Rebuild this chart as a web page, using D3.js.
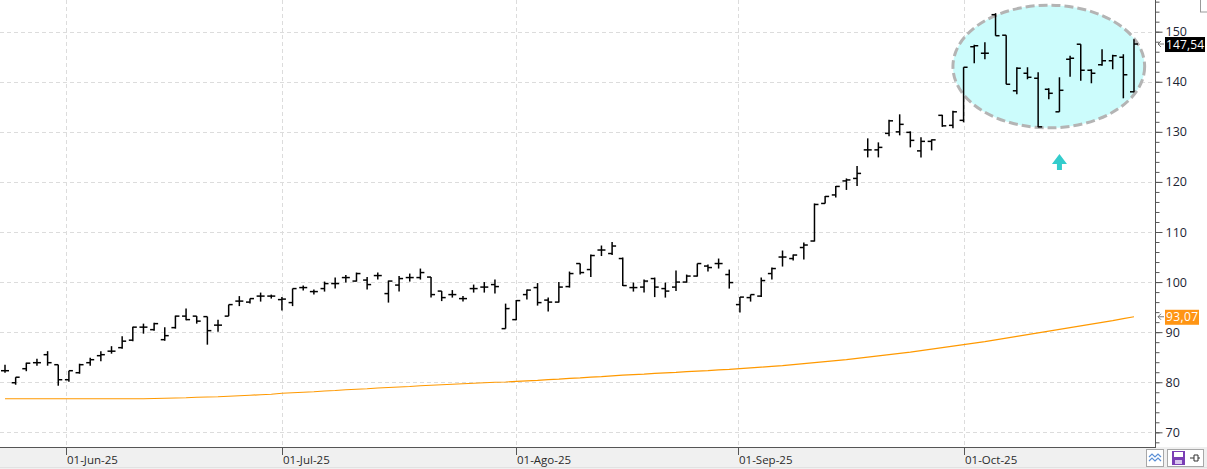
<!DOCTYPE html>
<html>
<head>
<meta charset="utf-8">
<script src="https://cdn.jsdelivr.net/npm/d3@7"></script>
<style>
  html, body { margin: 0; padding: 0; background: #fff; }
  #wrapper { width: 1207px; height: 469px; overflow: hidden; }
  text { font-family: "Open Sans", "DejaVu Sans", sans-serif; }
</style>
</head>
<body>
<div id="wrapper"></div>
<script>
// daily bars, 22-May-25 .. 23-Oct-25 (one entry per trading day)
const opens = [82.3, 79.9, 82.7, 83.9, 85.5, 83.5, 80.5, 81.9, 83.9, 85.3,
  86.2, 86.9, 88.4, 91.0, 90.5, 88.5, 90.9, 93.2, 93.2, 93.1,
  91.4, 93.2, 96.2, 96.0, 97.2, 97.2, 96.5, 95.9, 98.9, 98.1,
  98.7, 99.7, 100.9, 100.2, 100.4, 101.3, 97.7, 99.4, 100.9, 100.9,
  101.0, 98.2, 97.5, 96.7, 98.7, 99.0, 99.5, 90.7, 92.5, 97.5,
  98.9, 96.4, 96.0, 99.1, 103.7, 102.5, 106.4, 105.7, 104.7, 98.9,
  99.0, 100.7, 98.7, 99.0, 100.0, 101.2, 103.2, 103.7, 101.5, 95.5,
  96.9, 97.2, 101.7, 105.0, 104.7, 106.9, 108.2, 115.7, 117.4, 120.2,
  120.7, 126.4, 126.4, 129.7, 130.0, 129.9, 126.2, 128.1, 133.3, 131.3,
  132.3, 147.0, 145.7, 153.4, 149.3, 138.2, 141.7, 140.7, 138.5, 134.0,
  144.5, 147.5, 142.3, 143.4, 144.2, 144.9, 138.0];
const highs = [83.5, 81.0, 83.9, 84.7, 86.2, 83.5, 82.3, 83.7, 84.9, 86.2,
  87.2, 89.2, 91.1, 91.7, 91.9, 91.0, 93.3, 94.7, 93.2, 93.1,
  92.5, 95.5, 97.2, 96.7, 97.9, 97.5, 97.0, 98.7, 99.3, 98.5,
  100.1, 100.9, 101.4, 101.9, 101.0, 101.9, 100.3, 101.2, 101.7, 102.7,
  101.0, 98.2, 98.4, 97.2, 99.5, 100.0, 100.5, 95.7, 96.4, 98.5,
  99.8, 96.9, 100.0, 102.1, 103.7, 105.5, 107.3, 108.0, 104.9, 99.9,
  100.5, 100.9, 99.9, 102.3, 101.5, 103.7, 103.5, 104.7, 102.5, 97.0,
  97.5, 100.9, 102.9, 106.3, 105.5, 107.9, 115.7, 117.2, 119.2, 120.7,
  123.2, 128.7, 127.9, 132.4, 133.5, 130.1, 128.9, 128.5, 133.4, 134.2,
  142.9, 147.4, 147.9, 153.7, 149.3, 142.9, 142.9, 141.9, 138.7, 140.9,
  145.2, 147.5, 142.5, 146.5, 145.4, 145.5, 148.5];
const lows = [81.9, 79.5, 82.2, 83.3, 83.3, 79.3, 80.1, 81.7, 83.3, 84.2,
  85.7, 86.7, 88.2, 89.7, 90.3, 88.3, 90.7, 92.4, 91.7, 87.5,
  90.1, 93.2, 95.2, 95.7, 96.1, 96.7, 94.3, 95.2, 98.3, 97.5,
  98.1, 98.7, 99.9, 100.1, 98.5, 100.5, 95.9, 98.1, 100.1, 100.5,
  96.9, 96.2, 96.9, 96.1, 97.9, 97.9, 97.7, 90.7, 92.4, 96.5,
  95.3, 94.1, 95.9, 98.9, 101.5, 101.0, 105.2, 105.4, 99.2, 98.1,
  97.9, 97.0, 96.9, 98.2, 99.9, 101.1, 102.1, 102.7, 98.7, 93.9,
  96.1, 97.0, 100.5, 103.1, 104.3, 104.5, 108.1, 115.7, 116.9, 118.4,
  119.2, 124.9, 124.9, 129.1, 129.3, 126.9, 124.9, 126.3, 131.0, 130.7,
  131.9, 143.7, 144.5, 149.2, 139.5, 137.5, 140.5, 130.9, 136.5, 134.0,
  141.0, 140.2, 139.7, 143.2, 142.5, 136.7, 137.9];
const closes = [82.3, 81.0, 83.8, 83.9, 83.9, 80.5, 82.3, 83.5, 84.5, 85.5,
  86.2, 88.2, 91.0, 91.0, 91.7, 89.3, 93.2, 92.5, 92.2, 90.3,
  91.4, 95.5, 96.2, 96.7, 97.2, 97.2, 96.6, 98.7, 98.9, 98.1,
  99.7, 99.7, 100.9, 101.7, 99.5, 101.3, 100.2, 100.7, 100.9, 101.9,
  97.5, 96.9, 97.5, 96.7, 98.7, 99.0, 99.1, 94.7, 96.3, 98.4,
  95.9, 96.0, 99.0, 101.7, 101.9, 105.3, 106.4, 107.2, 99.3, 98.9,
  100.2, 99.0, 98.2, 100.0, 101.2, 103.7, 102.9, 103.7, 99.9, 97.0,
  97.5, 100.3, 102.7, 105.0, 105.4, 107.4, 115.5, 117.1, 119.1, 120.4,
  121.7, 126.4, 126.9, 132.2, 131.5, 128.3, 128.1, 128.4, 131.2, 134.0,
  142.9, 147.2, 145.7, 149.2, 139.5, 142.7, 140.9, 131.0, 137.7, 138.3,
  144.7, 142.3, 141.7, 144.2, 145.2, 141.4, 147.54];
// orange moving average, one value per bar
const movingAvg = [76.7, 76.7, 76.7, 76.7, 76.7, 76.7, 76.7, 76.7, 76.7, 76.7,
  76.7, 76.7, 76.7, 76.7, 76.75, 76.8, 76.85, 76.9, 77.0, 77.05,
  77.1, 77.2, 77.3, 77.4, 77.5, 77.6, 77.8, 77.9, 78.0, 78.1,
  78.25, 78.35, 78.5, 78.6, 78.7, 78.85, 78.95, 79.05, 79.15, 79.3,
  79.4, 79.5, 79.6, 79.7, 79.8, 79.9, 80.0, 80.05, 80.15, 80.25,
  80.35, 80.5, 80.6, 80.75, 80.85, 81.0, 81.1, 81.25, 81.4, 81.5,
  81.6, 81.75, 81.85, 81.95, 82.1, 82.2, 82.3, 82.45, 82.55, 82.7,
  82.85, 83.0, 83.15, 83.3, 83.5, 83.7, 83.9, 84.1, 84.3, 84.5,
  84.75, 85.0, 85.25, 85.5, 85.75, 86.0, 86.3, 86.6, 86.9, 87.2,
  87.5, 87.8, 88.1, 88.45, 88.8, 89.15, 89.5, 89.85, 90.2, 90.55,
  90.9, 91.25, 91.6, 91.95, 92.3, 92.7, 93.07];
// month ticks (position in bars) and labels
const monthTickPos = [5.7, 26, 48, 68.8, 90];
const monthTickLabels = ["01-Jun-25", "01-Jul-25", "01-Ago-25", "01-Sep-25", "01-Oct-25"];
const priceTicks = [70, 80, 90, 100, 110, 120, 130, 140, 150];
// highlighted zone: bar range and price range
const zoneBars = [89.0, 107.0];
const zonePrices = [130.8, 155.3];
const arrowBar = 99;
const arrowPrices = [122.4, 125.6];

function drawChart() {
    let dimensions = {
        width: 1207,
        height: 469,
        plotRight: 1155,
        plotBottom: 447
    };

    const svg = d3.select("#wrapper")
        .append("svg")
        .attr("width", dimensions.width)
        .attr("height", dimensions.height);

    const xScale = d3.scaleLinear()
        .domain([0, opens.length - 1])
        .range([5, 1134]);

    const yScale = d3.scaleLinear()
        .domain([70, 150])
        .range([432.3, 31.7]);

    const comma = d3.formatLocale({decimal: ",", thousands: ".", grouping: [3], currency: ["", ""]}).format(".2f");

    // grid
    const grid = svg.append("g")
        .attr("stroke", "#dcdcdc")
        .attr("stroke-dasharray", "4,3")
        .attr("stroke-width", 1)
        .attr("shape-rendering", "crispEdges");
    grid.selectAll(".h").data(priceTicks).join("line")
        .attr("x1", 0).attr("x2", dimensions.plotRight)
        .attr("y1", d => Math.round(yScale(d)) + 0.5)
        .attr("y2", d => Math.round(yScale(d)) + 0.5);
    grid.selectAll(".v").data(monthTickPos).join("line")
        .attr("x1", d => Math.round(xScale(d)) + 0.5)
        .attr("x2", d => Math.round(xScale(d)) + 0.5)
        .attr("y1", 0).attr("y2", dimensions.plotBottom);

    // highlighted zone
    svg.append("ellipse")
        .attr("cx", (xScale(zoneBars[0]) + xScale(zoneBars[1])) / 2)
        .attr("cy", (yScale(zonePrices[0]) + yScale(zonePrices[1])) / 2)
        .attr("rx", (xScale(zoneBars[1]) - xScale(zoneBars[0])) / 2)
        .attr("ry", (yScale(zonePrices[0]) - yScale(zonePrices[1])) / 2)
        .attr("fill", "#ccfcfc")
        .attr("stroke", "#b4b4b4")
        .attr("stroke-width", 3)
        .attr("stroke-dasharray", "9,4");

    // arrow
    const ax = xScale(arrowBar);
    const aTop = yScale(arrowPrices[1]);
    const aBot = yScale(arrowPrices[0]);
    svg.append("path")
        .attr("d", `M${ax},${aTop} L${ax + 7.5},${aTop + 10} L${ax + 2.5},${aTop + 10} L${ax + 2.5},${aBot} L${ax - 2.5},${aBot} L${ax - 2.5},${aTop + 10} L${ax - 7.5},${aTop + 10} Z`)
        .attr("fill", "#33cccc");

    // moving average
    const line = d3.line()
        .x((d, i) => xScale(i))
        .y(d => yScale(d));
    svg.append("path")
        .datum(movingAvg)
        .attr("d", line)
        .attr("fill", "none")
        .attr("stroke", "#ff9900")
        .attr("stroke-width", 1.2);

    // ohlc bars
    const bars = svg.append("g")
        .attr("stroke", "#000")
        .attr("stroke-width", 1.5);
    const idx = d3.range(opens.length);
    bars.selectAll(".hl").data(idx).join("line")
        .attr("x1", i => xScale(i)).attr("x2", i => xScale(i))
        .attr("y1", i => yScale(highs[i])).attr("y2", i => yScale(lows[i]));
    bars.selectAll(".op").data(idx).join("line")
        .attr("x1", i => xScale(i) - 4).attr("x2", i => xScale(i))
        .attr("y1", i => yScale(opens[i])).attr("y2", i => yScale(opens[i]));
    bars.selectAll(".cl").data(idx).join("line")
        .attr("x1", i => xScale(i)).attr("x2", i => xScale(i) + 4)
        .attr("y1", i => yScale(closes[i])).attr("y2", i => yScale(closes[i]));

    // right axis
    const axisG = svg.append("g")
        .attr("transform", `translate(${dimensions.plotRight + 0.5},0)`);
    axisG.append("g")
        .call(d3.axisRight(yScale).tickValues(d3.range(68, 157, 2)).tickSize(4).tickFormat(""))
        .call(g => g.select(".domain").remove())
        .selectAll("line").attr("stroke", "#555");
    axisG.append("g")
        .call(d3.axisRight(yScale).tickValues(priceTicks).tickSize(7).tickPadding(3))
        .call(g => g.select(".domain").remove())
        .call(g => g.selectAll("line").attr("stroke", "#555"))
        .call(g => g.selectAll("text")
            .attr("fill", "#1c2433")
            .style("font-size", "12.5px")
            .style("font-family", "'Open Sans', sans-serif"));
    axisG.append("line")
        .attr("x1", 0).attr("x2", 0)
        .attr("y1", 0).attr("y2", dimensions.plotBottom)
        .attr("stroke", "#555").attr("stroke-width", 1);

    // small box at top right
    svg.append("rect")
        .attr("x", 1200.5).attr("y", -1)
        .attr("width", 10).attr("height", 13)
        .attr("fill", "none").attr("stroke", "#999");

    // last value labels
    const lastLabels = [
        {v: closes[closes.length - 1], fill: "#000", w: 40},
        {v: movingAvg[movingAvg.length - 1], fill: "#ff9514", w: 34}
    ];
    lastLabels.forEach(l => {
        const ly = yScale(l.v);
        svg.append("path")
            .attr("d", `M${dimensions.plotRight + 6},${ly - 3} L${dimensions.plotRight + 3},${ly} L${dimensions.plotRight + 6},${ly + 3} M${dimensions.plotRight + 3},${ly} L${dimensions.plotRight + 9},${ly}`)
            .attr("fill", "none").attr("stroke", "#555").attr("stroke-width", 0.8);
        svg.append("rect")
            .attr("x", 1165).attr("y", ly - 7)
            .attr("width", l.w).attr("height", 15)
            .attr("fill", l.fill);
        svg.append("text")
            .attr("x", 1166).attr("y", ly + 4.5)
            .attr("fill", "#fff")
            .style("font-size", "12px")
            .attr("textLength", l.w - 2)
            .text(comma(l.v));
    });

    // bottom axis band
    svg.append("rect")
        .attr("x", 0).attr("y", dimensions.plotBottom)
        .attr("width", dimensions.width).attr("height", dimensions.height - dimensions.plotBottom)
        .attr("fill", "#f0f0f0");
    svg.append("line")
        .attr("x1", 0).attr("x2", dimensions.plotRight + 1)
        .attr("y1", dimensions.plotBottom + 0.5).attr("y2", dimensions.plotBottom + 0.5)
        .attr("stroke", "#555");
    svg.append("line")
        .attr("x1", 0).attr("x2", dimensions.width)
        .attr("y1", 467.5).attr("y2", 467.5)
        .attr("stroke", "#e2e2e2");

    const xTicks = svg.append("g");
    xTicks.selectAll("line").data(monthTickPos).join("line")
        .attr("x1", d => Math.round(xScale(d)) + 0.5)
        .attr("x2", d => Math.round(xScale(d)) + 0.5)
        .attr("y1", dimensions.plotBottom).attr("y2", dimensions.plotBottom + 8)
        .attr("stroke", "#555");
    xTicks.selectAll("text").data(monthTickPos).join("text")
        .attr("x", d => Math.round(xScale(d)) + 1)
        .attr("y", 464)
        .attr("fill", "#2b2b2b")
        .style("font-size", "11.5px")
        .text((d, i) => monthTickLabels[i]);

    // toolbar icons bottom right
    svg.append("rect")
        .attr("x", 1146.5).attr("y", 449.5).attr("width", 17).attr("height", 17)
        .attr("fill", "#fff").attr("stroke", "#a8a8a8");
    svg.append("path")
        .attr("d", "M1149,457 l3,-3 l3,3 l3,-3 l3,3 M1149,461 l3,-3 l3,3 l3,-3 l3,3")
        .attr("fill", "none").attr("stroke", "#5b8fd6").attr("stroke-width", 1.2);
    svg.append("rect")
        .attr("x", 1167.5).attr("y", 449.5).attr("width", 36).attr("height", 17)
        .attr("fill", "#fff").attr("stroke", "#a8a8a8");
    svg.append("rect")
        .attr("x", 1172).attr("y", 451).attr("width", 13).attr("height", 14)
        .attr("fill", "#7b3fb5");
    svg.append("rect")
        .attr("x", 1174).attr("y", 452).attr("width", 9).attr("height", 5)
        .attr("fill", "#fff");
    svg.append("rect")
        .attr("x", 1175).attr("y", 460).attr("width", 7).attr("height", 4)
        .attr("fill", "#d9c6ee");
    svg.append("path")
        .attr("d", "M1190,458 h4 M1194,455 v6 M1194,455 h4 v6 h-4 M1198,458 h2")
        .attr("fill", "none").attr("stroke", "#333").attr("stroke-width", 1);
}

drawChart();
</script>
</body>
</html>
